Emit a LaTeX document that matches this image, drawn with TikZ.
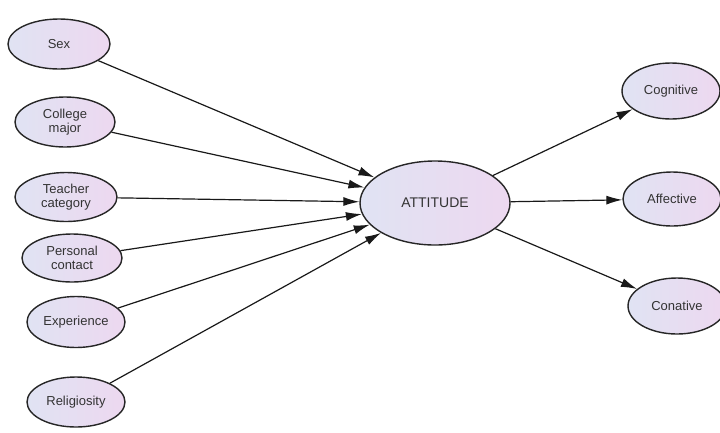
\documentclass[tikz,border=0pt]{standalone}
\usepackage{fontspec}
\setmainfont{Liberation Sans}
\usetikzlibrary{shapes.geometric,arrows.meta,shadings}
\definecolor{lft}{HTML}{E0E3F3}
\definecolor{rgt}{HTML}{EDD8F0}
\definecolor{txt}{HTML}{333333}
\tikzset{
  ell/.style={ellipse, draw=black!85, line width=1.4pt, left color=lft, right color=rgt,
    inner sep=0pt, align=center, text=txt, font=\fontsize{13}{14.5}\selectfont},
  conn/.style={-{Latex[length=16pt,width=9pt]}, line width=1.2pt, black!90}
}
\begin{document}
\begin{tikzpicture}[x=1pt,y=-1pt]
\useasboundingbox (0,0) rectangle (720,432);
\node[ell, minimum width=102pt, minimum height=50pt] (sex) at (59,44) {Sex};
\node[ell, minimum width=100pt, minimum height=50pt] (col) at (65,122) {College\\major};
\node[ell, minimum width=102pt, minimum height=49pt] (tea) at (66,197) {Teacher\\category};
\node[ell, minimum width=100pt, minimum height=48pt] (per) at (72,258) {Personal\\contact};
\node[ell, minimum width=98pt, minimum height=51pt] (exp) at (76,322) {Experience};
\node[ell, minimum width=98pt, minimum height=50pt] (rel) at (76,402) {Religiosity};
\node[ell, minimum width=150pt, minimum height=84pt, font=\fontsize{14}{15}\selectfont] (att) at (435,203) {ATTITUDE};
\node[ell, minimum width=98pt, minimum height=56pt] (cog) at (671,91) {Cognitive};
\node[ell, minimum width=98pt, minimum height=54pt] (aff) at (672,199) {Affective};
\node[ell, minimum width=98pt, minimum height=56pt] (con) at (677,306) {Conative};
\foreach \n in {sex,col,tea,per,exp,rel} \draw[conn] (\n) -- (att);
\foreach \n in {cog,aff,con} \draw[conn] (att) -- (\n);
\end{tikzpicture}
\end{document}
